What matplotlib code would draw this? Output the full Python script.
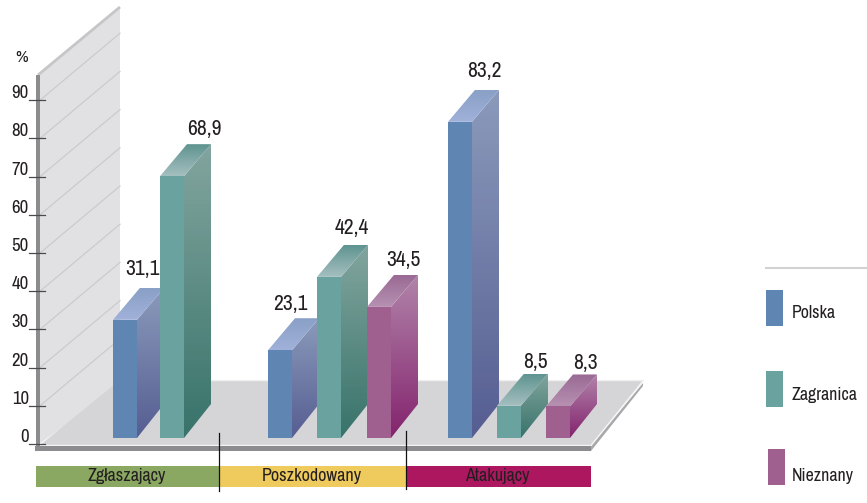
import numpy as np
import matplotlib
matplotlib.use("Agg")
import matplotlib.pyplot as plt
from matplotlib.colors import LinearSegmentedColormap
from matplotlib.patches import Polygon

# data
groups = ["Zgłaszający", "Poszkodowany", "Atakujący"]
series = ["Polska", "Zagranica", "Nieznany"]
polska = [31.1, 23.1, 83.2]
zagranica = [68.9, 42.4, 8.5]
nieznany = [None, 34.5, 8.3]
ticks = [0, 10, 20, 30, 40, 50, 60, 70, 80, 90]

# colours: front, side top, side bottom, top front, top back
COLORS = {
    "Polska": ("#5f85b3", "#8b9abb", "#565e92", "#8aa0c6", "#a0b1da"),
    "Zagranica": ("#69a29f", "#82a59e", "#38736a", "#5f9490", "#a5bfc0"),
    "Nieznany": ("#a0608f", "#b184aa", "#84246e", "#9a6a94", "#b690b2"),
}

plt.rcParams["font.family"] = ["Archivo Narrow", "Liberation Sans"]
TEXT = "#231f20"

BASE = 438.0
SCALE = 3.8
DX = 27
DY = 32
BAR_W = 24
LEFTS = {"Polska": [113, 268, 448], "Zagranica": [160, 317, 497], "Nieznany": [None, 367, 546]}
LABEL_POS = {
    "Polska": [(142, 269), (290, 304), (484, 71)],
    "Zagranica": [(204, 129), (352, 228), (535, 362)],
    "Nieznany": [None, (403, 260), (585, 363)],
}
VALUES = {"Polska": polska, "Zagranica": zagranica, "Nieznany": nieznany}

fig = plt.figure(figsize=(8.67, 5.03), dpi=100, facecolor="white")
ax = fig.add_axes([0, 0, 1, 1])
ax.axis("off")


def face(points, c0, c1, z=3):
    """Polygon filled with a vertical gradient."""
    pts = np.array(points, dtype=float)
    x0, x1 = pts[:, 0].min(), pts[:, 0].max()
    y0, y1 = pts[:, 1].min(), pts[:, 1].max()
    cmap = LinearSegmentedColormap.from_list("g", [c0, c1])
    grad = np.linspace(0, 1, 64).reshape(-1, 1)
    im = ax.imshow(grad, extent=(x0, x1, y1, y0), cmap=cmap, aspect="auto", zorder=z, origin="upper")
    clip = Polygon(pts, transform=ax.transData, facecolor="none", edgecolor="none")
    ax.add_patch(clip)
    im.set_clip_path(clip)


# wall
ax.add_patch(Polygon([(38, 75), (120, 7), (120, 385), (38, 445)], facecolor="#e1e1e3", edgecolor="none", zorder=1))
ax.plot([38, 120], [75, 7], color="#c6c6c8", lw=2, zorder=1.5, solid_capstyle="butt")
for t in ticks[1:]:
    y = 444 - t * 3.82
    ax.plot([40, 120], [y, y - 67], color="#cbcbcd", lw=0.9, zorder=1.2)

# floor
ax.add_patch(Polygon([(40, 445), (591, 445), (643, 381), (120, 380)], facecolor="#d5d5d7", edgecolor="none", zorder=2))
ax.plot([40, 591, 643], [445.5, 445.5, 381], color="#f4f4f4", lw=1, zorder=2.1)
ax.plot([120, 643], [380, 380], color="#f0f0f0", lw=1, zorder=2.1)
ax.add_patch(Polygon([(591, 446), (643, 383), (643, 386), (591, 451)], facecolor="#a9a9ab", edgecolor="none", zorder=2))
ax.add_patch(Polygon([(35, 446), (591, 446), (591, 451), (35, 451)], facecolor="#8c8c8e", edgecolor="none", zorder=2.2))
ax.add_patch(Polygon([(36, 75), (40, 75), (40, 451), (36, 451)], facecolor="#8c8c8e", edgecolor="none", zorder=2.2))

# axis ticks and labels
for t in ticks:
    y = 444 - t * 3.82
    ax.plot([29, 45], [y, y], color="#4a4a4a", lw=0.9, zorder=2.3)
    ax.text(29, y - 7, str(t), ha="right", va="center", fontsize=13.5, color=TEXT)
ax.text(22, 57, "%", ha="center", va="center", fontsize=12.5, color=TEXT)

# bars
for name in series:
    front, side_top, side_bot, top_front, top_back = COLORS[name]
    for i, v in enumerate(VALUES[name]):
        if v is None:
            continue
        x = LEFTS[name][i]
        top = BASE - v * SCALE
        x1 = x + BAR_W
        order = 3 + i * 0.01 + series.index(name) * 0.1
        face([(x1, top), (x1 + DX, top - DY), (x1 + DX, BASE - DY - 2), (x1, BASE)], side_top, side_bot, z=order)
        face([(x, top), (x1, top), (x1 + DX, top - DY), (x + DX, top - DY)], top_front, top_back, z=order)
        ax.add_patch(Polygon([(x, top), (x1, top), (x1, BASE), (x, BASE)], facecolor=front, edgecolor="none", zorder=order + 0.01))
        lx, ly = LABEL_POS[name][i]
        ax.text(lx, ly, f"{v:.1f}".replace(".", ","), ha="center", va="center", fontsize=15.5, color=TEXT, zorder=6)

# category strip
edges = [36, 219, 406, 591]
strip_colors = ["#8ba862", "#efca5c", "#ad1760"]
for i, g in enumerate(groups):
    ax.add_patch(Polygon([(edges[i], 466), (edges[i + 1], 466), (edges[i + 1], 487), (edges[i], 487)],
                         facecolor=strip_colors[i], edgecolor="none", zorder=2))
    ax.text((edges[i] + edges[i + 1]) / 2 - 1, 476, g, ha="center", va="center", fontsize=13, color=TEXT, zorder=3)
ax.plot([219, 219], [433, 491], color="#111111", lw=0.9, zorder=7)
ax.plot([406, 406], [431, 489], color="#111111", lw=0.9, zorder=7)

# legend
ax.plot([766, 867], [268, 268], color="#d2d2d2", lw=1.5)
legend_pos = [(766, 290, 313), (766, 371, 395), (768, 449, 476)]
for name, (lx, ly, ty) in zip(series, legend_pos):
    ax.add_patch(Polygon([(lx, ly), (lx + 17, ly), (lx + 17, ly + 36), (lx, ly + 36)],
                         facecolor=COLORS[name][0], edgecolor="none"))
    ax.text(792, ty, name, ha="left", va="center", fontsize=12.8, color=TEXT)

ax.set_xlim(0, 867)
ax.set_ylim(503, 0)
fig.savefig("out.png", dpi=100, facecolor="white")
